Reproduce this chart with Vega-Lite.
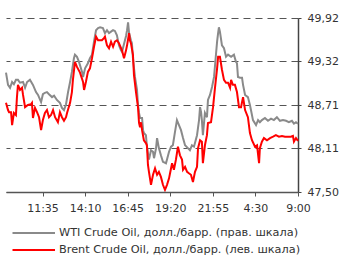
{
  "$schema": "https://vega.github.io/schema/vega-lite/v6.json",
  "width": 292,
  "height": 174,
  "autosize": "none",
  "padding": {"left": 6, "top": 18, "right": 45, "bottom": 66},
  "background": "white",
  "config": {
    "font": "DejaVu Sans",
    "view": {"stroke": null},
    "axis": {"labelFont": "DejaVu Sans", "labelFontSize": 11, "labelColor": "#333333", "title": null},
    "legend": {
      "title": null, "orient": "none", "legendX": 0, "legendY": 209, "direction": "vertical",
      "symbolType": "M 0.1 0 L 8.6 0", "symbolSize": 100, "symbolStrokeWidth": 2, "rowPadding": 5,
      "labelFont": "DejaVu Sans", "labelFontSize": 11.3, "labelColor": "#333333", "labelLimit": 400, "labelOffset": 41
    }
  },
  "datasets": {
    "wti": [
      {"i": 0, "v": 49.16}, {"i": 1.0, "v": 48.99}, {"i": 2.0, "v": 48.95}, {"i": 3.0, "v": 49.03}, {"i": 3.9, "v": 49.0},
      {"i": 4.9, "v": 49.06}, {"i": 5.9, "v": 49.06}, {"i": 6.9, "v": 49.02}, {"i": 8.4, "v": 49.03}, {"i": 9.4, "v": 48.95},
      {"i": 10.4, "v": 49.03}, {"i": 11.8, "v": 49.06}, {"i": 13.3, "v": 48.99}, {"i": 14.8, "v": 48.89}, {"i": 15.8, "v": 48.85},
      {"i": 17.3, "v": 48.75}, {"i": 18.2, "v": 48.86}, {"i": 19.2, "v": 48.88}, {"i": 20.2, "v": 48.89}, {"i": 21.2, "v": 48.86},
      {"i": 22.7, "v": 48.82}, {"i": 23.7, "v": 48.84}, {"i": 25.1, "v": 48.78}, {"i": 26.6, "v": 48.74}, {"i": 27.6, "v": 48.67},
      {"i": 28.6, "v": 48.64}, {"i": 29.6, "v": 48.72}, {"i": 30.6, "v": 48.89}, {"i": 31.6, "v": 49.03}, {"i": 32.5, "v": 49.17},
      {"i": 33.5, "v": 49.36}, {"i": 34.0, "v": 49.41}, {"i": 35.0, "v": 49.38}, {"i": 36.0, "v": 49.31}, {"i": 37.5, "v": 49.17},
      {"i": 38.0, "v": 49.1}, {"i": 39.0, "v": 49.22}, {"i": 40.4, "v": 49.29}, {"i": 41.4, "v": 49.36}, {"i": 42.4, "v": 49.41},
      {"i": 43.4, "v": 49.59}, {"i": 44.4, "v": 49.75}, {"i": 45.4, "v": 49.78}, {"i": 46.4, "v": 49.79}, {"i": 47.8, "v": 49.78},
      {"i": 48.8, "v": 49.71}, {"i": 49.8, "v": 49.75}, {"i": 50.8, "v": 49.71}, {"i": 51.8, "v": 49.73}, {"i": 52.8, "v": 49.75},
      {"i": 53.7, "v": 49.74}, {"i": 54.7, "v": 49.68}, {"i": 55.7, "v": 49.54}, {"i": 56.7, "v": 49.47}, {"i": 57.2, "v": 49.45},
      {"i": 58.2, "v": 49.56}, {"i": 59.2, "v": 49.67}, {"i": 59.7, "v": 49.75}, {"i": 60.2, "v": 49.86}, {"i": 60.7, "v": 49.71},
      {"i": 61.6, "v": 49.61}, {"i": 62.1, "v": 49.57}, {"i": 62.6, "v": 49.36}, {"i": 63.6, "v": 49.1}, {"i": 64.6, "v": 48.92},
      {"i": 65.1, "v": 48.71}, {"i": 65.6, "v": 48.6}, {"i": 66.1, "v": 48.53}, {"i": 67.1, "v": 48.53}, {"i": 67.6, "v": 48.36},
      {"i": 68.0, "v": 48.32}, {"i": 69.0, "v": 48.29}, {"i": 69.5, "v": 48.13}, {"i": 70.5, "v": 47.95}, {"i": 71.5, "v": 48.08},
      {"i": 72.5, "v": 48.06}, {"i": 73.0, "v": 47.97}, {"i": 74.0, "v": 48.11}, {"i": 74.5, "v": 48.25}, {"i": 75.4, "v": 48.11},
      {"i": 76.4, "v": 48.01}, {"i": 77.4, "v": 47.92}, {"i": 78.9, "v": 47.9}, {"i": 80.4, "v": 48.06}, {"i": 81.4, "v": 48.13},
      {"i": 82.3, "v": 48.15}, {"i": 83.3, "v": 48.33}, {"i": 84.3, "v": 48.5}, {"i": 85.3, "v": 48.43}, {"i": 86.3, "v": 48.36},
      {"i": 87.3, "v": 48.25}, {"i": 88.3, "v": 48.15}, {"i": 89.7, "v": 48.11}, {"i": 90.7, "v": 48.08}, {"i": 91.7, "v": 48.15},
      {"i": 92.7, "v": 48.13}, {"i": 94.2, "v": 48.29}, {"i": 95.2, "v": 48.5}, {"i": 95.7, "v": 48.68}, {"i": 96.2, "v": 48.61},
      {"i": 96.6, "v": 48.5}, {"i": 97.1, "v": 48.29}, {"i": 98.1, "v": 48.6}, {"i": 99.1, "v": 48.54}, {"i": 99.6, "v": 48.78},
      {"i": 100.6, "v": 48.85}, {"i": 101.6, "v": 48.96}, {"i": 102.1, "v": 49.03}, {"i": 102.6, "v": 49.1}, {"i": 103.6, "v": 49.43},
      {"i": 104.1, "v": 49.59}, {"i": 104.6, "v": 49.71}, {"i": 105.0, "v": 49.79}, {"i": 105.5, "v": 49.73}, {"i": 106.5, "v": 49.54},
      {"i": 107.5, "v": 49.5}, {"i": 108.5, "v": 49.38}, {"i": 109.5, "v": 49.41}, {"i": 111.0, "v": 49.38}, {"i": 112.4, "v": 49.41},
      {"i": 113.4, "v": 49.31}, {"i": 113.9, "v": 49.29}, {"i": 114.4, "v": 49.1}, {"i": 115.4, "v": 49.09}, {"i": 116.4, "v": 49.09},
      {"i": 116.9, "v": 48.99}, {"i": 117.9, "v": 48.85}, {"i": 119.3, "v": 48.82}, {"i": 120.3, "v": 48.71}, {"i": 120.8, "v": 48.64},
      {"i": 121.8, "v": 48.5}, {"i": 123.3, "v": 48.43}, {"i": 124.3, "v": 48.5}, {"i": 125.2, "v": 48.47}, {"i": 126.2, "v": 48.5},
      {"i": 127.7, "v": 48.53}, {"i": 129.2, "v": 48.49}, {"i": 130.7, "v": 48.52}, {"i": 132.1, "v": 48.5}, {"i": 133.6, "v": 48.54},
      {"i": 135.1, "v": 48.49}, {"i": 136.6, "v": 48.5}, {"i": 138.1, "v": 48.49}, {"i": 139.5, "v": 48.47}, {"i": 141.0, "v": 48.49},
      {"i": 142.0, "v": 48.45}, {"i": 143.0, "v": 48.47}, {"i": 144.0, "v": 48.45}
    ],
    "brent": [
      {"i": 0, "v": 48.74}, {"i": 1.0, "v": 48.64}, {"i": 1.5, "v": 48.61}, {"i": 2.5, "v": 48.61}, {"i": 3.0, "v": 48.43},
      {"i": 3.9, "v": 48.6}, {"i": 4.9, "v": 48.57}, {"i": 5.4, "v": 48.82}, {"i": 5.9, "v": 48.99}, {"i": 6.9, "v": 48.92},
      {"i": 7.9, "v": 48.95}, {"i": 8.4, "v": 48.85}, {"i": 9.4, "v": 48.68}, {"i": 10.8, "v": 48.71}, {"i": 12.3, "v": 48.72},
      {"i": 12.8, "v": 48.74}, {"i": 13.3, "v": 48.53}, {"i": 14.3, "v": 48.67}, {"i": 15.3, "v": 48.61}, {"i": 16.3, "v": 48.54},
      {"i": 17.3, "v": 48.36}, {"i": 18.2, "v": 48.5}, {"i": 19.2, "v": 48.6}, {"i": 20.2, "v": 48.64}, {"i": 21.2, "v": 48.54},
      {"i": 22.2, "v": 48.57}, {"i": 23.2, "v": 48.64}, {"i": 24.2, "v": 48.54}, {"i": 25.6, "v": 48.47}, {"i": 26.6, "v": 48.61},
      {"i": 27.6, "v": 48.54}, {"i": 28.6, "v": 48.49}, {"i": 29.6, "v": 48.54}, {"i": 30.1, "v": 48.6}, {"i": 31.6, "v": 48.74},
      {"i": 32.5, "v": 48.89}, {"i": 33.0, "v": 49.06}, {"i": 34.0, "v": 49.31}, {"i": 35.0, "v": 49.24}, {"i": 36.5, "v": 49.16},
      {"i": 38.0, "v": 49.03}, {"i": 38.5, "v": 48.92}, {"i": 39.4, "v": 49.03}, {"i": 40.4, "v": 49.17}, {"i": 41.4, "v": 49.22},
      {"i": 42.4, "v": 49.36}, {"i": 43.4, "v": 49.52}, {"i": 44.4, "v": 49.66}, {"i": 45.4, "v": 49.61}, {"i": 46.4, "v": 49.61},
      {"i": 47.3, "v": 49.61}, {"i": 48.3, "v": 49.64}, {"i": 48.8, "v": 49.66}, {"i": 49.8, "v": 49.54}, {"i": 50.8, "v": 49.5},
      {"i": 51.8, "v": 49.59}, {"i": 52.8, "v": 49.52}, {"i": 53.7, "v": 49.59}, {"i": 54.7, "v": 49.61}, {"i": 55.7, "v": 49.57},
      {"i": 57.2, "v": 49.47}, {"i": 58.2, "v": 49.36}, {"i": 59.2, "v": 49.47}, {"i": 59.7, "v": 49.54}, {"i": 60.7, "v": 49.71},
      {"i": 61.1, "v": 49.61}, {"i": 61.6, "v": 49.57}, {"i": 62.6, "v": 49.41}, {"i": 63.1, "v": 49.13}, {"i": 64.1, "v": 48.89},
      {"i": 65.1, "v": 48.68}, {"i": 65.6, "v": 48.46}, {"i": 66.1, "v": 48.4}, {"i": 66.6, "v": 48.47}, {"i": 67.1, "v": 48.36},
      {"i": 68.0, "v": 48.22}, {"i": 69.0, "v": 48.18}, {"i": 69.5, "v": 48.15}, {"i": 70.0, "v": 47.88}, {"i": 70.5, "v": 47.78},
      {"i": 71.5, "v": 47.6}, {"i": 72.5, "v": 47.74}, {"i": 73.5, "v": 47.83}, {"i": 74.5, "v": 47.74}, {"i": 75.4, "v": 47.78},
      {"i": 76.4, "v": 47.71}, {"i": 77.4, "v": 47.6}, {"i": 78.4, "v": 47.53}, {"i": 79.4, "v": 47.6}, {"i": 80.4, "v": 47.69},
      {"i": 80.9, "v": 47.76}, {"i": 81.9, "v": 47.9}, {"i": 82.8, "v": 47.81}, {"i": 83.8, "v": 47.95}, {"i": 84.8, "v": 48.13},
      {"i": 85.8, "v": 48.01}, {"i": 86.8, "v": 47.95}, {"i": 87.3, "v": 47.81}, {"i": 88.3, "v": 47.85}, {"i": 89.3, "v": 47.78},
      {"i": 90.2, "v": 47.76}, {"i": 91.2, "v": 47.74}, {"i": 92.2, "v": 47.64}, {"i": 93.2, "v": 47.78}, {"i": 94.2, "v": 47.85},
      {"i": 94.7, "v": 48.11}, {"i": 95.7, "v": 48.22}, {"i": 96.6, "v": 48.2}, {"i": 97.1, "v": 47.9}, {"i": 98.1, "v": 48.15},
      {"i": 99.1, "v": 48.29}, {"i": 99.6, "v": 48.46}, {"i": 101.1, "v": 48.47}, {"i": 102.1, "v": 48.68}, {"i": 103.1, "v": 48.96},
      {"i": 104.1, "v": 49.22}, {"i": 104.6, "v": 49.38}, {"i": 105.5, "v": 49.38}, {"i": 106.5, "v": 49.2}, {"i": 107.5, "v": 49.06},
      {"i": 108.5, "v": 49.02}, {"i": 109.5, "v": 49.02}, {"i": 110.5, "v": 48.95}, {"i": 111.0, "v": 49.06}, {"i": 111.9, "v": 48.99},
      {"i": 112.9, "v": 48.99}, {"i": 113.9, "v": 48.89}, {"i": 114.9, "v": 48.68}, {"i": 115.9, "v": 48.68}, {"i": 116.9, "v": 48.82},
      {"i": 117.9, "v": 48.64}, {"i": 119.3, "v": 48.54}, {"i": 120.3, "v": 48.32}, {"i": 121.3, "v": 48.22}, {"i": 122.8, "v": 48.13},
      {"i": 123.8, "v": 48.15}, {"i": 124.8, "v": 47.9}, {"i": 125.2, "v": 48.11}, {"i": 126.2, "v": 48.2}, {"i": 127.2, "v": 48.25},
      {"i": 128.7, "v": 48.22}, {"i": 130.2, "v": 48.25}, {"i": 131.7, "v": 48.27}, {"i": 133.1, "v": 48.29}, {"i": 134.6, "v": 48.27},
      {"i": 136.1, "v": 48.28}, {"i": 137.6, "v": 48.27}, {"i": 139.1, "v": 48.27}, {"i": 140.5, "v": 48.27}, {"i": 141.5, "v": 48.28},
      {"i": 142.0, "v": 48.2}, {"i": 143.0, "v": 48.25}, {"i": 144.0, "v": 48.21}
    ]
  },
  "encoding": {
    "x": {
      "field": "i", "type": "quantitative",
      "scale": {"domain": [0, 144], "nice": false, "zero": false},
      "axis": {
        "values": [18, 39, 60, 81, 102, 123, 144],
        "labelExpr": "['11:35','14:10','16:45','19:20','21:55','4:30','9:00'][round((datum.value-18)/21)]",
        "grid": false, "domainColor": "#555555", "domainWidth": 1.5, "zindex": 1,
        "tickColor": "#555555", "tickSize": 4, "labelPadding": 6, "labelAngle": 0, "labelAlign": "center"
      }
    },
    "y": {
      "field": "v", "type": "quantitative",
      "scale": {"domain": [47.5, 49.92], "nice": false, "zero": false},
      "axis": {
        "orient": "right",
        "values": [47.5, 48.11, 48.71, 49.32, 49.92],
        "labelExpr": "replace(format(datum.value, '.2f'), '.', ',')",
        "grid": true, "gridDash": [7, 5], "gridColor": "#555555", "gridWidth": 1.2,
        "domainColor": "#444444", "domainWidth": 1.5, "tickColor": "#444444", "tickSize": 3, "labelPadding": 6
      }
    }
  },
  "layer": [
    {
      "data": {"name": "wti"},
      "mark": {"type": "line", "strokeWidth": 2},
      "encoding": {
        "color": {
          "datum": "WTI Crude Oil, долл./барр. (прав. шкала)",
          "scale": {
            "domain": ["WTI Crude Oil, долл./барр. (прав. шкала)", "Brent Crude Oil, долл./барр. (лев. шкала)"],
            "range": ["#8a8a8a", "#ff0000"]
          }
        }
      }
    },
    {
      "data": {"name": "brent"},
      "mark": {"type": "line", "strokeWidth": 2},
      "encoding": {
        "color": {
          "datum": "Brent Crude Oil, долл./барр. (лев. шкала)",
          "scale": {
            "domain": ["WTI Crude Oil, долл./барр. (прав. шкала)", "Brent Crude Oil, долл./барр. (лев. шкала)"],
            "range": ["#8a8a8a", "#ff0000"]
          }
        }
      }
    }
  ]
}
